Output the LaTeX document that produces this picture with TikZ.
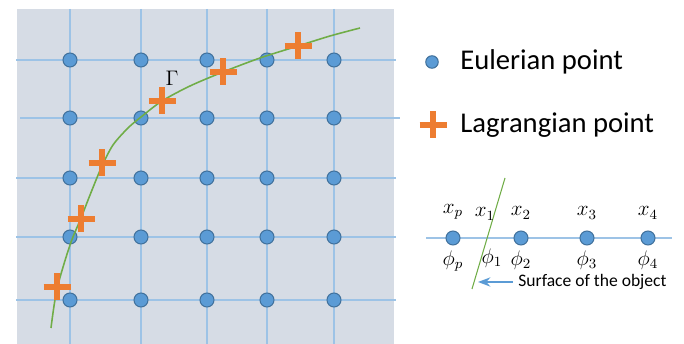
\documentclass[tikz,border=0pt]{standalone}
\usepackage{fontspec}
\setsansfont{Carlito}
\usepackage{tikz}
\usetikzlibrary{arrows.meta,positioning}

\definecolor{bgblue}{HTML}{D6DCE5}
\definecolor{gridblue}{HTML}{9DC3E6}
\definecolor{dotblue}{HTML}{5B9BD5}
\definecolor{dotedge}{HTML}{41719C}
\definecolor{lagorange}{HTML}{ED7D31}
\definecolor{curvegreen}{HTML}{70AD47}

\begin{document}
\begin{tikzpicture}[x=0.02cm, y=-0.02cm, >=Stealth,
  euler/.style={circle, fill=dotblue, draw=dotedge, line width=0.6pt,
    minimum size=0.28cm, inner sep=0pt},
  gridline/.style={gridblue, line width=0.7pt},
  legtext/.style={font=\sffamily\fontsize{16.3}{19}\selectfont, anchor=west, inner sep=0pt},
  mathlbl/.style={font=\fontsize{11.5}{13}\selectfont, inner sep=0pt},
  lagr/.pic={\draw[lagorange, line width=0.11cm] (-13.5,0) -- (13.5,0) (0,-13.5) -- (0,13.5);}]

  \useasboundingbox (0,0) rectangle (684,344);

  % Background and grid
  \fill[bgblue] (17,9) rectangle (394,344);
  \foreach \gy in {60,178,237,300}
    \draw[gridline] (16,\gy) -- (396,\gy);
  \draw[gridline] (20,118) -- (400,118);
  \foreach \gx in {70,141,207,267,334}
    \draw[gridline] (\gx,9) -- (\gx,344);

  % Eulerian points
  \foreach \gx [count=\i] in {70,141,207,267,334}
    \foreach \gy [count=\j] in {60,118,178,237,300}
      \node (e\i\j) [euler] at (\gx,\gy) {};

  % Interface and Lagrangian points
  \draw[curvegreen, line width=0.9pt] plot[smooth, tension=0.5] coordinates
    {(51,328) (57,289) (70,245) (81,218) (92,190) (102,166) (113,145) (128,128)
     (141,117) (162,101) (190,86) (223,72) (260,58) (298,46) (330,36) (360,28)};
  \pic (l1) at (57,287) {lagr};
  \pic (l2) at (81,219) {lagr};
  \pic (l3) at (102,163) {lagr};
  \pic (l4) at (162,101) {lagr};
  \pic (l5) at (223,72) {lagr};
  \pic (l6) at (298,46) {lagr};
  \node (gamma) [mathlbl] at (172,78) {$\Gamma$};

  % Legend
  \node (legdot) [euler, minimum size=0.25cm] at (432,62) {};
  \node (legeuler) [legtext] at (460,62) {Eulerian point};
  \pic (leglagr) at (433,125) {lagr};
  \node (leglag) [legtext] at (460,125) {Lagrangian point};

  % 1D sketch near the surface
  \coordinate (axisL) at (426,238);
  \coordinate (axisR) at (672,238);
  \draw[gridline, line width=0.8pt] (axisL) -- (axisR);
  \coordinate (surfB) at (472,289);
  \coordinate (surfT) at (505,178);
  \draw[curvegreen, line width=0.6pt] (surfB) -- (surfT);

  \node (xp) [euler] at (453,238) {};
  \node (x2) [euler] at (521,238) {};
  \node (x3) [euler] at (587,238) {};
  \node (x4) [euler] at (648,238) {};

  \node (lxp) [mathlbl, above=0.22cm of xp] {$x_p$};
  \node (lx1) [mathlbl] at (485,214) {$x_1$};
  \node (lx2) [mathlbl, above=0.22cm of x2] {$x_2$};
  \node (lx3) [mathlbl, above=0.22cm of x3] {$x_3$};
  \node (lx4) [mathlbl, above=0.22cm of x4] {$x_4$};

  \node (pp) [mathlbl, below=0.1cm of xp] {$\phi_p$};
  \node (p1) [mathlbl] at (492,258) {$\phi_1$};
  \node (p2) [mathlbl, below=0.1cm of x2] {$\phi_2$};
  \node (p3) [mathlbl, below=0.1cm of x3] {$\phi_3$};
  \node (p4) [mathlbl, below=0.1cm of x4] {$\phi_4$};

  \node (surf) [font=\sffamily\fontsize{10}{12}\selectfont, anchor=west, inner sep=0pt]
    at (518,282) {Surface of the object};
  \coordinate (surftip) at (478,282);
  \draw[->, dotblue, line width=0.9pt] ([xshift=-3pt]surf.west) -- (surftip);

\end{tikzpicture}
\end{document}
